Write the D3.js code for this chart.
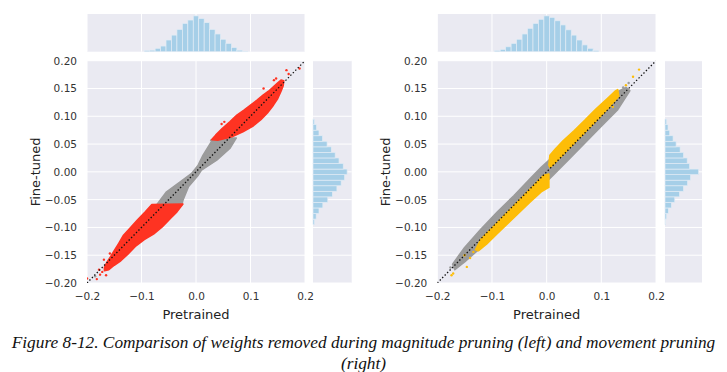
<!DOCTYPE html>
<html>
<head>
<meta charset="utf-8">
<script src="https://cdn.jsdelivr.net/npm/d3@7"></script>
<style>
body { margin: 0; background: #fff; }
</style>
</head>
<body>
<div id="chart"></div>
<script>
// ticks
const xTicks = [-0.2, -0.1, 0.0, 0.1, 0.2];
const yTicks = [0.2, 0.15, 0.1, 0.05, 0.0, -0.05, -0.1, -0.15, -0.2];

// histogram bin centres (width 0.01)
const histBins = [-0.09, -0.08, -0.07, -0.06, -0.05, -0.04, -0.03, -0.02, -0.01, 0.0,
                  0.01, 0.02, 0.03, 0.04, 0.05, 0.06, 0.07, 0.08, 0.09];

// magnitude pruning (left)
const magTopHist  = [0.03, 0.04, 0.09, 0.15, 0.31, 0.44, 0.59, 0.75, 0.84, 0.95,
                     0.88, 0.77, 0.59, 0.47, 0.33, 0.22, 0.11, 0.04, 0.01];
const magSideHist = [0.04, 0.09, 0.17, 0.28, 0.42, 0.55, 0.68, 0.80, 0.90, 0.97,
                     0.86, 0.74, 0.63, 0.52, 0.40, 0.27, 0.17, 0.10, 0.04];
const magGrayBand = [[-0.072, -0.059], [-0.054, -0.036], [-0.029, -0.018], [-0.008, -0.003],
                     [0.004, 0.012], [0.013, 0.030], [0.030, 0.057], [0.040, 0.061],
                     [0.074, 0.061], [0.062, 0.042], [0.038, 0.021], [0.010, 0.003],
                     [0.004, -0.006], [-0.014, -0.027], [-0.024, -0.051], [-0.026, -0.060]];
const magRedUpper = [[0.029, 0.058], [0.036, 0.066], [0.048, 0.078], [0.062, 0.090], [0.075, 0.102],
                     [0.088, 0.111], [0.100, 0.120], [0.112, 0.129], [0.123, 0.138], [0.133, 0.145],
                     [0.142, 0.153], [0.150, 0.160], [0.156, 0.165], [0.161, 0.164], [0.160, 0.155],
                     [0.156, 0.145], [0.150, 0.132], [0.142, 0.120], [0.131, 0.106], [0.119, 0.094],
                     [0.104, 0.082], [0.086, 0.072], [0.066, 0.063], [0.040, 0.057]];
const magRedLower = [[-0.081, -0.059], [-0.093, -0.072], [-0.108, -0.087], [-0.120, -0.100],
                     [-0.133, -0.114], [-0.142, -0.129], [-0.150, -0.142], [-0.157, -0.153],
                     [-0.163, -0.162], [-0.168, -0.172], [-0.168, -0.178], [-0.160, -0.176],
                     [-0.150, -0.168], [-0.138, -0.160], [-0.125, -0.148], [-0.110, -0.133],
                     [-0.095, -0.122], [-0.078, -0.112], [-0.062, -0.099], [-0.047, -0.084],
                     [-0.035, -0.072], [-0.024, -0.058]];
const magRedDots  = [[-0.200, -0.192], [-0.182, -0.193], [-0.176, -0.185], [-0.169, -0.158],
                     [-0.172, -0.180], [-0.178, -0.176], [-0.165, -0.186], [-0.158, -0.147],
                     [0.166, 0.183], [0.143, 0.165], [0.190, 0.186], [0.147, 0.168],
                     [0.052, 0.090], [0.047, 0.086], [0.124, 0.150], [0.170, 0.176]];
const magGrayDots = [[-0.026, -0.051], [0.028, 0.057], [-0.185, -0.188]];

// movement pruning (right)
const movTopHist  = [0.03, 0.06, 0.13, 0.22, 0.33, 0.47, 0.62, 0.75, 0.86, 0.95,
                     0.91, 0.82, 0.71, 0.58, 0.44, 0.31, 0.18, 0.09, 0.03];
const movSideHist = [0.02, 0.05, 0.10, 0.19, 0.29, 0.43, 0.55, 0.67, 0.76, 1.00,
                     0.73, 0.66, 0.55, 0.45, 0.33, 0.24, 0.14, 0.09, 0.05];
const movGrayBand = [[-0.172, -0.166], [-0.150, -0.136], [-0.120, -0.103], [-0.090, -0.072],
                     [-0.060, -0.043], [-0.030, -0.012], [-0.010, 0.008], [0.010, 0.026],
                     [0.040, 0.056], [0.070, 0.086], [0.100, 0.116], [0.130, 0.144], [0.145, 0.152],
                     [0.152, 0.146], [0.130, 0.112], [0.100, 0.082], [0.070, 0.052], [0.040, 0.022],
                     [0.010, -0.008], [-0.010, -0.027], [-0.030, -0.047], [-0.060, -0.077],
                     [-0.090, -0.106], [-0.120, -0.136], [-0.150, -0.162], [-0.168, -0.176]];
const movYellowUpper = [[0.004, 0.012], [0.006, 0.030], [0.015, 0.040], [0.030, 0.056], [0.050, 0.074],
                        [0.070, 0.093], [0.090, 0.113], [0.110, 0.131], [0.125, 0.145], [0.130, 0.148],
                        [0.132, 0.136], [0.110, 0.112], [0.090, 0.091], [0.070, 0.071], [0.050, 0.051],
                        [0.030, 0.031], [0.015, 0.016], [0.006, 0.008]];
const movYellowLower = [[0.004, -0.004], [0.004, -0.028], [-0.010, -0.036], [-0.030, -0.054],
                        [-0.050, -0.073], [-0.070, -0.092], [-0.090, -0.111], [-0.110, -0.130],
                        [-0.125, -0.142], [-0.130, -0.140], [-0.120, -0.121], [-0.100, -0.101],
                        [-0.080, -0.081], [-0.060, -0.061], [-0.040, -0.041], [-0.020, -0.021],
                        [-0.005, -0.006]];
const movYellowDots = [[0.169, 0.184], [0.158, 0.171], [0.145, 0.156], [0.121, 0.117], [0.128, 0.140],
                       [-0.146, -0.171], [-0.171, -0.183], [-0.174, -0.186], [-0.134, -0.144],
                       [-0.140, -0.155], [-0.150, -0.150]];
const movGrayDots = [[0.140, 0.152], [0.150, 0.160], [-0.160, -0.158], [-0.176, -0.172]];

const caption1 = "Figure 8-12. Comparison of weights removed during magnitude pruning (left) and movement pruning";
const caption2 = "(right)";

const BG = "#eaeaf2";
const HIST = "#a6cfe8";
const GRAY = "#9b9b9b";

class JointPanel {
    constructor(svg, box, id) {
        this.svg = svg;
        this.box = box;
        this.id = id;
        this.x = d3.scaleLinear().domain([-0.2, 0.2]).range([box.left, box.right]);
        this.y = d3.scaleLinear().domain([-0.2, 0.2]).range([box.bottom, box.top]);
        this.topY = d3.scaleLinear().domain([0, 1]).range([box.histBottom, box.histTop]);
        this.sideX = d3.scaleLinear().domain([0, 1.1]).range([box.sideLeft, box.sideRight]);
        this.g = svg.append("g");
    }

    drawFrames() {
        const b = this.box;
        this.g.append("rect").attr("x", b.left).attr("y", b.top)
            .attr("width", b.right - b.left).attr("height", b.bottom - b.top).attr("fill", BG);
        this.g.append("rect").attr("x", b.left).attr("y", b.histTop)
            .attr("width", b.right - b.left).attr("height", b.histBottom - b.histTop).attr("fill", BG);
        this.g.append("rect").attr("x", b.sideLeft).attr("y", b.top)
            .attr("width", b.sideRight - b.sideLeft).attr("height", b.bottom - b.top).attr("fill", BG);

        const grid = this.g.append("g").attr("stroke", "#fff").attr("stroke-width", 1);
        xTicks.forEach(t => {
            grid.append("line").attr("x1", this.x(t)).attr("x2", this.x(t))
                .attr("y1", b.top).attr("y2", b.bottom);
            grid.append("line").attr("x1", this.x(t)).attr("x2", this.x(t))
                .attr("y1", b.histTop).attr("y2", b.histBottom);
        });
        yTicks.forEach(t => {
            grid.append("line").attr("x1", b.left).attr("x2", b.right)
                .attr("y1", this.y(t)).attr("y2", this.y(t));
            grid.append("line").attr("x1", b.sideLeft).attr("x2", b.sideRight)
                .attr("y1", this.y(t)).attr("y2", this.y(t));
        });
    }

    drawHistograms(topVals, sideVals) {
        const half = 0.005;
        this.g.append("g").selectAll("rect")
            .data(histBins)
            .enter().append("rect")
            .attr("x", (d) => this.x(d - half))
            .attr("width", (d) => this.x(d + half) - this.x(d - half))
            .attr("y", (d, i) => this.topY(topVals[i]))
            .attr("height", (d, i) => this.topY(0) - this.topY(topVals[i]))
            .attr("fill", HIST)
            .attr("stroke", "#e2ecf5")
            .attr("stroke-width", 0.7);

        this.g.append("g").selectAll("rect")
            .data(histBins)
            .enter().append("rect")
            .attr("x", this.sideX(0))
            .attr("width", (d, i) => this.sideX(sideVals[i]) - this.sideX(0))
            .attr("y", (d) => this.y(d + half))
            .attr("height", (d) => this.y(d - half) - this.y(d + half))
            .attr("fill", HIST)
            .attr("stroke", "#e2ecf5")
            .attr("stroke-width", 0.7);
    }

    drawScatter(layers) {
        const b = this.box;
        this.svg.append("clipPath").attr("id", "clip-" + this.id)
            .append("rect").attr("x", b.left).attr("y", b.top)
            .attr("width", b.right - b.left).attr("height", b.bottom - b.top);
        const plot = this.g.append("g").attr("clip-path", `url(#clip-${this.id})`);
        const line = d3.line()
            .x(d => this.x(d[0]))
            .y(d => this.y(d[1]))
            .curve(d3.curveLinearClosed);

        layers.forEach(layer => {
            if (layer.poly) {
                plot.append("path")
                    .attr("d", line(layer.poly))
                    .attr("fill", layer.color)
                    .attr("stroke", layer.color)
                    .attr("stroke-width", 1.6)
                    .attr("stroke-linejoin", "round");
            }
            if (layer.dots) {
                plot.append("g").selectAll("circle")
                    .data(layer.dots)
                    .enter().append("circle")
                    .attr("cx", d => this.x(d[0]))
                    .attr("cy", d => this.y(d[1]))
                    .attr("r", 1.2)
                    .attr("fill", layer.color);
            }
        });

        // identity line
        plot.append("line")
            .attr("x1", this.x(-0.2)).attr("y1", this.y(-0.2))
            .attr("x2", this.x(0.2)).attr("y2", this.y(0.2))
            .attr("stroke", "#111")
            .attr("stroke-width", 1.3)
            .attr("stroke-dasharray", "1.4,2.1");
    }

    drawAxes() {
        const b = this.box;
        const xAxis = d3.axisBottom(this.x).tickValues(xTicks).tickSize(0).tickPadding(10)
            .tickFormat(d3.format(".1f"));
        const yAxis = d3.axisLeft(this.y).tickValues(yTicks).tickSize(0).tickPadding(10)
            .tickFormat(d3.format(".2f"));

        const gx = this.g.append("g").attr("transform", `translate(0,${b.bottom})`).call(xAxis);
        const gy = this.g.append("g").attr("transform", `translate(${b.left},0)`).call(yAxis);
        [gx, gy].forEach(ax => {
            ax.select(".domain").remove();
            ax.selectAll("text")
                .style("font-family", "DejaVu Sans")
                .style("font-size", "10.5px")
                .style("fill", "#333");
        });

        this.g.append("text")
            .attr("x", (b.left + b.right) / 2)
            .attr("y", 318.5)
            .attr("text-anchor", "middle")
            .style("font-family", "DejaVu Sans")
            .style("font-size", "13px")
            .style("fill", "#222")
            .text("Pretrained");

        this.g.append("text")
            .attr("transform", `translate(${b.left - 47},${(b.top + b.bottom) / 2}) rotate(-90)`)
            .attr("text-anchor", "middle")
            .style("font-family", "DejaVu Sans")
            .style("font-size", "13px")
            .style("fill", "#222")
            .text("Fine-tuned");
    }
}

const svg = d3.select("#chart").append("svg")
    .attr("width", 727)
    .attr("height", 372);

const left = new JointPanel(svg, {
    left: 87, right: 305, top: 60.7, bottom: 283,
    histTop: 14, histBottom: 51.7, sideLeft: 313, sideRight: 351.7
}, "mag");
left.drawFrames();
left.drawHistograms(magTopHist, magSideHist);
left.drawScatter([
    { poly: magGrayBand, dots: magGrayDots, color: GRAY },
    { poly: magRedUpper, color: "#fe3322" },
    { poly: magRedLower, dots: magRedDots, color: "#fe3322" }
]);
left.drawAxes();

const right = new JointPanel(svg, {
    left: 437.3, right: 656, top: 60.7, bottom: 283,
    histTop: 14, histBottom: 51.7, sideLeft: 665, sideRight: 702
}, "mov");
right.drawFrames();
right.drawHistograms(movTopHist, movSideHist);
right.drawScatter([
    { poly: movGrayBand, dots: movGrayDots, color: GRAY },
    { poly: movYellowUpper, color: "#fdbd08" },
    { poly: movYellowLower, dots: movYellowDots, color: "#fdbd08" }
]);
right.drawAxes();

// caption, two centred italic serif lines
function captionLine(text, y) {
    return svg.append("text")
        .attr("x", 363.5).attr("y", y)
        .attr("text-anchor", "middle")
        .style("font-family", "'Liberation Serif', 'DejaVu Serif', serif")
        .style("font-style", "italic")
        .style("font-size", "15px")
        .style("fill", "#111")
        .text(text);
}
const line1 = captionLine(caption1, 348);
const capSize = 15 * 704 / line1.node().getComputedTextLength();
line1.style("font-size", capSize + "px");
captionLine(caption2, 369).style("font-size", capSize + "px");
</script>
</body>
</html>
